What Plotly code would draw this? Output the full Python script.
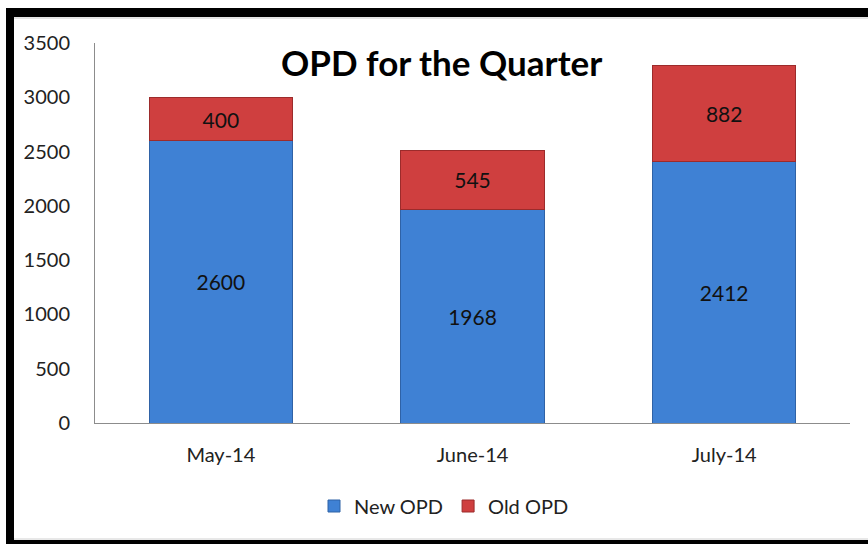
import plotly.graph_objects as go

months = ["May-14", "June-14", "July-14"]
new_opd = [2600, 1968, 2412]
old_opd = [400, 545, 882]
y_ticks = [0, 500, 1000, 1500, 2000, 2500, 3000, 3500]

W, H = 868, 544
FONT = "Lato, Calibri, 'Open Sans', sans-serif"

def px(x):
    return x / W

def py(y):
    return 1 - y / H

fig = go.Figure()
fig.add_trace(go.Bar(
    x=months, y=new_opd, name="New OPD",
    marker=dict(color="#3f81d4", line=dict(color="#2f62a6", width=1)),
    text=new_opd, textposition="inside", insidetextanchor="middle",
    textfont=dict(color="#111111", size=21, family=FONT),
    width=0.57,
))
fig.add_trace(go.Bar(
    x=months, y=old_opd, name="Old OPD",
    marker=dict(color="#cf3f3f", line=dict(color="#9c2b2b", width=1)),
    text=old_opd, textposition="inside", insidetextanchor="middle",
    textfont=dict(color="#111111", size=21, family=FONT),
    width=0.57,
))

shapes = [
    dict(type="rect", xref="paper", yref="paper", x0=px(6), x1=px(870), y0=py(17), y1=py(8),
         fillcolor="black", line=dict(width=0), layer="above"),
    dict(type="rect", xref="paper", yref="paper", x0=px(6), x1=px(14), y0=py(546), y1=py(8),
         fillcolor="black", line=dict(width=0), layer="above"),
    dict(type="rect", xref="paper", yref="paper", x0=px(6), x1=px(870), y0=py(546), y1=py(540),
         fillcolor="black", line=dict(width=0), layer="above"),
    dict(type="line", xref="paper", yref="paper", x0=px(14), x1=px(870), y0=py(18), y1=py(18),
         line=dict(color="#c8c8c8", width=1)),
    dict(type="line", xref="paper", yref="paper", x0=px(14), x1=px(870), y0=py(539), y1=py(539),
         line=dict(color="#d0d0d0", width=1)),
]

fig.update_layout(
    barmode="stack",
    width=W, height=H,
    margin=dict(l=0, r=0, t=0, b=0),
    paper_bgcolor="white",
    plot_bgcolor="white",
    font=dict(family=FONT, color="#222222", size=20),
    showlegend=True,
    legend=dict(orientation="h", x=px(444), y=py(506), xanchor="center", yanchor="middle",
                font=dict(size=20, family=FONT, color="#222222"), traceorder="normal",
                itemwidth=30),
    xaxis=dict(domain=[px(95), px(850)], showline=True, linecolor="#8c8c8c", linewidth=1,
               ticks="", tickfont=dict(size=20, family=FONT, color="#222222"),
               automargin=False, showgrid=False, ticklabelstandoff=14),
    yaxis=dict(domain=[py(423), py(43)], range=[0, 3500], tickvals=y_ticks,
               showline=True, linecolor="#8c8c8c", linewidth=1, showgrid=False, zeroline=False,
               ticks="", tickfont=dict(size=20, family=FONT, color="#222222"),
               automargin=False, ticklabelstandoff=20),
    shapes=shapes,
    annotations=[dict(text="<b>OPD for the Quarter</b>", xref="paper", yref="paper",
                      x=px(442), y=py(62), xanchor="center", yanchor="middle",
                      showarrow=False, font=dict(size=35, family=FONT, color="black"))],
)

fig.write_html("out.html", config={"displayModeBar": False},
               post_script="document.body.style.margin='0';document.body.style.overflow='hidden';")
